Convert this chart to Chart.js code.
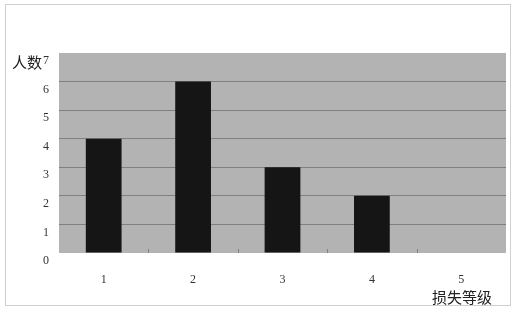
<!DOCTYPE html>
<html>
<head>
<meta charset="utf-8">
<script src="https://cdn.jsdelivr.net/npm/chart.js@4/dist/chart.umd.min.js"></script>
<style>
  html, body { margin: 0; padding: 0; background: #fff; }
  #wrap { width: 516px; height: 313px; }
</style>
</head>
<body>
<div id="wrap"><canvas id="c" width="516" height="313"></canvas></div>
<script>
const categories = ['1', '2', '3', '4', '5'];
const counts = [4, 6, 3, 2, 0];
const yTicks = [0, 1, 2, 3, 4, 5, 6, 7];
const yTitle = '人数';
const xTitle = '损失等级';

const SERIF = '"Liberation Serif", "DejaVu Serif", serif';
const CJK = '"Noto Sans CJK SC", "Noto Sans", sans-serif';

const framePlugin = {
  id: 'frame',
  beforeDraw(chart) {
    const { ctx, chartArea: a } = chart;
    ctx.save();
    ctx.fillStyle = '#fff';
    ctx.fillRect(0, 0, chart.width, chart.height);
    ctx.strokeStyle = '#cfcfcf';
    ctx.lineWidth = 1;
    ctx.strokeRect(5.5, 4.5, 505, 301);
    ctx.fillStyle = '#b3b3b3';
    ctx.fillRect(a.left, a.top, a.right - a.left, a.bottom - a.top);
    ctx.restore();
  },
  afterDraw(chart) {
    const { ctx, chartArea: a } = chart;
    const xs = chart.scales.x;
    ctx.save();
    // small tick marks between categories, pointing up into the plot
    ctx.strokeStyle = '#808080';
    ctx.lineWidth = 1;
    for (let i = 1; i < categories.length; i++) {
      const px = Math.round((xs.getPixelForValue(i - 1) + xs.getPixelForValue(i)) / 2) + 0.5;
      ctx.beginPath();
      ctx.moveTo(px, a.bottom);
      ctx.lineTo(px, a.bottom - 4);
      ctx.stroke();
    }
    ctx.fillStyle = '#222';
    ctx.font = '15px ' + CJK;
    ctx.textBaseline = 'middle';
    ctx.textAlign = 'left';
    ctx.fillText(yTitle, a.left - 47, a.top + 9);
    ctx.textAlign = 'right';
    ctx.fillText(xTitle, a.right - 14, a.bottom + 44);
    ctx.restore();
  }
};

new Chart(document.getElementById('c'), {
  type: 'bar',
  data: {
    labels: categories,
    datasets: [{
      data: counts,
      backgroundColor: '#151515',
      borderWidth: 0,
      barPercentage: 0.8,
      categoryPercentage: 0.5
    }]
  },
  options: {
    responsive: false,
    animation: false,
    layout: { padding: { left: 0, top: 53, right: 10, bottom: 0 } },
    plugins: {
      legend: { display: false },
      tooltip: { enabled: false }
    },
    scales: {
      x: {
        grid: { display: false },
        border: { display: false },
        ticks: {
          color: '#333',
          font: { family: SERIF, size: 12 },
          padding: 12
        },
        afterFit(s) { s.height = 60; }
      },
      y: {
        min: 0,
        max: 7,
        afterBuildTicks(s) { s.ticks = yTicks.map(v => ({ value: v })); },
        grid: {
          color: (c) => (c.tick.value === 0 || c.tick.value === 7) ? 'rgba(0,0,0,0)' : '#808080',
          drawTicks: false
        },
        border: { display: false },
        ticks: {
          color: '#333',
          font: { family: SERIF, size: 12 },
          padding: 10,
          labelOffset: 8
        },
        afterFit(s) { s.width = 59; }
      }
    }
  },
  plugins: [framePlugin]
});
</script>
</body>
</html>
